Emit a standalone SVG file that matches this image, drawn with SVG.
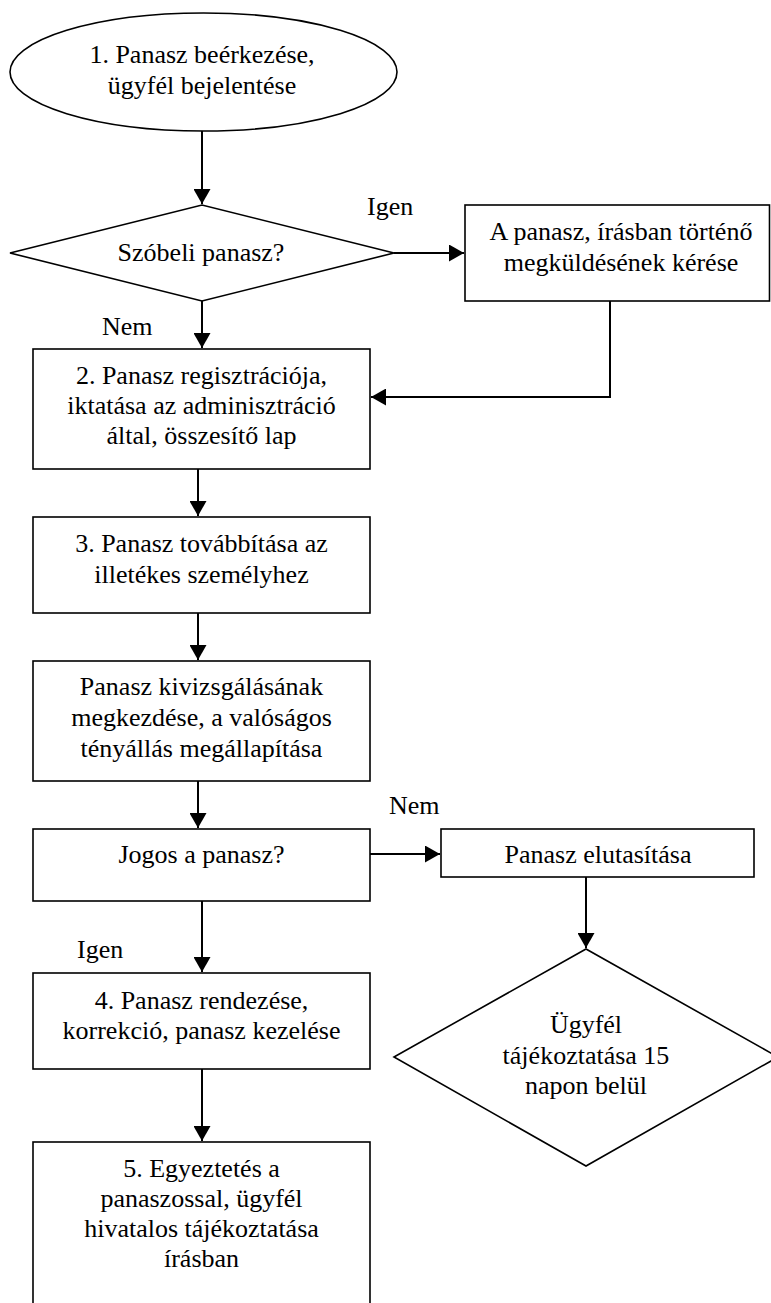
<svg xmlns="http://www.w3.org/2000/svg" width="771" height="1303" viewBox="0 0 771 1303">
<style>
.shape{fill:#fff;stroke:#000;stroke-width:1.6}
.conn{fill:none;stroke:#000;stroke-width:2}
text{font-family:"Liberation Serif","Times New Roman",serif;font-size:26px;fill:#000;text-anchor:middle}
.lbl{text-anchor:start}
</style>
<defs>
<marker id="arr" markerUnits="userSpaceOnUse" markerWidth="16" markerHeight="17" refX="15" refY="8.5" orient="auto">
<path d="M0,0 L15,8.5 L0,17 z" fill="#000"/>
</marker>
</defs>
<g id="connectors">
<path class="conn" d="M202,131 V204" marker-end="url(#arr)"/>
<path class="conn" d="M394,253 H464" marker-end="url(#arr)"/>
<path class="conn" d="M610,301 V397 H371" marker-end="url(#arr)"/>
<path class="conn" d="M202,301 V348" marker-end="url(#arr)"/>
<path class="conn" d="M198,469 V516" marker-end="url(#arr)"/>
<path class="conn" d="M198,613 V660" marker-end="url(#arr)"/>
<path class="conn" d="M198,781 V828" marker-end="url(#arr)"/>
<path class="conn" d="M370,854 H440" marker-end="url(#arr)"/>
<path class="conn" d="M586,877 V948" marker-end="url(#arr)"/>
<path class="conn" d="M202,901 V972" marker-end="url(#arr)"/>
<path class="conn" d="M202,1069 V1141" marker-end="url(#arr)"/>
<text class="lbl" x="367" y="215">Igen</text>
<text class="lbl" x="102" y="335">Nem</text>
<text class="lbl" x="389" y="814">Nem</text>
<text class="lbl" x="77" y="958">Igen</text>
</g>
<g id="n1">
<ellipse class="shape" cx="203.5" cy="72" rx="193.5" ry="59"/>
<text x="202" y="63">1. Panasz beérkezése,</text>
<text x="202" y="94">ügyfél bejelentése</text>
</g>
<g id="d1">
<polygon class="shape" points="10,253 202,205 394,253 202,301"/>
<text x="201" y="261">Szóbeli panasz?</text>
</g>
<g id="nreq">
<rect class="shape" x="465" y="205" width="304.5" height="96"/>
<text x="621" y="240">A panasz, írásban történő</text>
<text x="621" y="271">megküldésének kérése</text>
</g>
<g id="n2">
<rect class="shape" x="33" y="349" width="337" height="120"/>
<text x="201.5" y="384">2. Panasz regisztrációja,</text>
<text x="201.5" y="414">iktatása az adminisztráció</text>
<text x="201.5" y="444">által, összesítő lap</text>
</g>
<g id="n3">
<rect class="shape" x="33" y="517" width="337" height="96"/>
<text x="201.5" y="552">3. Panasz továbbítása az</text>
<text x="201.5" y="583">illetékes személyhez</text>
</g>
<g id="ninv">
<rect class="shape" x="33" y="661" width="337" height="120"/>
<text x="201.5" y="695">Panasz kivizsgálásának</text>
<text x="201.5" y="726">megkezdése, a valóságos</text>
<text x="201.5" y="757">tényállás megállapítása</text>
</g>
<g id="d2">
<rect class="shape" x="33" y="829" width="337" height="72"/>
<text x="201.5" y="863">Jogos a panasz?</text>
</g>
<g id="nrej">
<rect class="shape" x="441" y="829" width="313" height="48"/>
<text x="598" y="863">Panasz elutasítása</text>
</g>
<g id="ninfo">
<polygon class="shape" points="394,1057 586,949 778,1057 586,1166"/>
<text x="586" y="1033">Ügyfél</text>
<text x="586" y="1064">tájékoztatása 15</text>
<text x="586" y="1094">napon belül</text>
</g>
<g id="n4">
<rect class="shape" x="33" y="973" width="337" height="96"/>
<text x="201.5" y="1009">4. Panasz rendezése,</text>
<text x="201.5" y="1039">korrekció, panasz kezelése</text>
</g>
<g id="n5">
<rect class="shape" x="33" y="1142" width="337" height="180"/>
<text x="201.5" y="1177">5. Egyeztetés a</text>
<text x="201.5" y="1207">panaszossal, ügyfél</text>
<text x="201.5" y="1237">hivatalos tájékoztatása</text>
<text x="201.5" y="1267">írásban</text>
</g>
</svg>
